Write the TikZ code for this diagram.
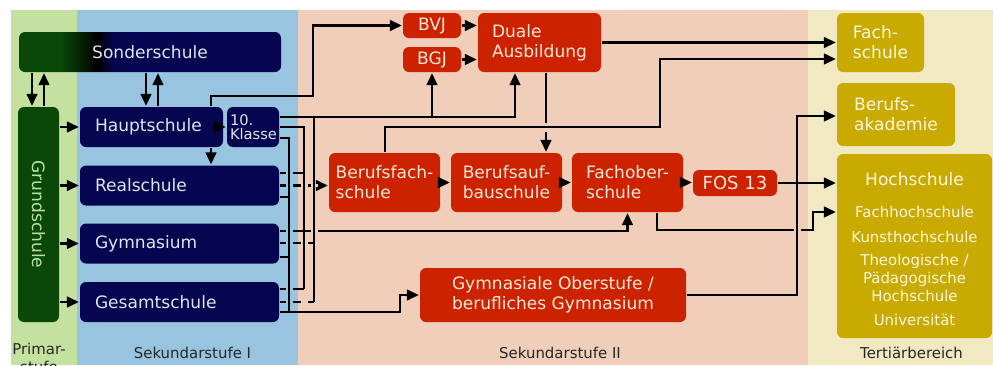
\documentclass[tikz,border=0pt]{standalone}
\usepackage{fontspec}
\setmainfont{DejaVu Sans}
\usetikzlibrary{arrows.meta}
\definecolor{primar}{RGB}{197,225,160}
\definecolor{sekone}{RGB}{152,196,224}
\definecolor{sektwo}{RGB}{241,206,186}
\definecolor{tertiar}{RGB}{241,233,194}
\definecolor{navybox}{RGB}{5,5,80}
\definecolor{greenbox}{RGB}{10,72,10}
\definecolor{redbox}{RGB}{204,34,0}
\definecolor{goldbox}{RGB}{200,170,0}
\definecolor{navytext}{RGB}{225,228,240}
\definecolor{redtext}{RGB}{255,232,215}
\definecolor{goldtext}{RGB}{255,246,222}
\definecolor{greentext}{RGB}{185,228,160}
\pgfdeclarehorizontalshading{sonderfade}{100bp}{color(0bp)=(greenbox); color(33bp)=(greenbox); color(40bp)=(black); color(43bp)=(navybox); color(100bp)=(navybox)}
\tikzset{
  school/.style={rounded corners=4.5pt, inner ysep=0pt, font=\fontsize{12.8}{15}\selectfont},
  sekibox/.style={school, fill=navybox, text=navytext, minimum height=30pt, align=left},
  sekiibox/.style={school, fill=redbox, text=redtext, align=left},
  tertbox/.style={school, fill=goldbox, text=goldtext, align=left},
  bandlabel/.style={inner sep=0pt, text={black!85}, font=\fontsize{11.2}{13.5}\selectfont},
  hgap/.pic={\fill (-3.5,-1.8) rectangle (3.5,1.8);},
  vgap/.pic={\fill (-1.8,-4.5) rectangle (1.8,4.5);},
}

\begin{document}
\begin{tikzpicture}[x=0.75pt,y=-0.75pt,line width=1.7pt,>={Triangle[length=9pt,width=8pt]}]
\useasboundingbox (0,0) rectangle (993,365);
% stages
\fill[primar] (11,10) rectangle (77,365);
\fill[sekone] (77,10) rectangle (298,365);
\fill[sektwo] (298,10) rectangle (808,365);
\fill[tertiar] (808,10) rectangle (993,365);
\node[bandlabel, align=center, anchor=north] (primarlabel) at (39,342) {Primar-\\stufe};
\node[bandlabel, anchor=base] (sekilabel) at (192.5,358) {Sekundarstufe I};
\node[bandlabel, anchor=base] (sekiilabel) at (560,358) {Sekundarstufe II};
\node[bandlabel, anchor=base] (tertlabel) at (911.5,358) {Tertiärbereich};
% Primarstufe and Sekundarstufe I
\node[school, text=navytext, shade, shading=sonderfade, minimum width=196.5pt, minimum height=30pt] (sonder) at (150,52) {Sonderschule};
\node[school, fill=greenbox, minimum width=30.75pt, minimum height=161.25pt,
  label={[rotate=-90, text=greentext, font=\fontsize{12.8}{15}\selectfont]center:Grundschule}] (grund) at (38.5,214.5) {};
\node[sekibox, minimum width=107.25pt, text width=84.75pt, inner xsep=11.25pt] (haupt) at (151.5,127) {Hauptschule};
\node[sekibox, minimum width=39pt, text width=34.5pt, inner xsep=2.25pt, font=\fontsize{11}{10.5}\selectfont] (zehn) at (253,127) {10.\\Klasse};
\node[sekibox, minimum width=149.25pt, text width=126.75pt, inner xsep=11.25pt] (real) at (179.5,185.5) {Realschule};
\node[sekibox, minimum width=149.25pt, text width=126.75pt, inner xsep=11.25pt] (gym) at (179.5,243.5) {Gymnasium};
\node[sekibox, minimum width=149.25pt, text width=126.75pt, inner xsep=11.25pt] (gesamt) at (179.5,302) {Gesamtschule};
% Sekundarstufe II
\node[sekiibox, minimum width=43.5pt, minimum height=18.75pt] (bvj) at (432,25.5) {BVJ};
\node[sekiibox, minimum width=43.5pt, minimum height=18.75pt] (bgj) at (432,59.5) {BGJ};
\node[sekiibox, minimum width=92.25pt, minimum height=44.25pt] (duale) at (539.5,42.5) {Duale\\Ausbildung};
\node[sekiibox, minimum width=83.25pt, minimum height=44.25pt] (bfs) at (384.5,182.5) {Berufsfach-\\schule};
\node[sekiibox, minimum width=83.25pt, minimum height=44.25pt] (bas) at (506.5,182.5) {Berufsauf-\\bauschule};
\node[sekiibox, minimum width=83.25pt, minimum height=44.25pt] (fos) at (627.5,182.5) {Fachober-\\schule};
\node[sekiibox, minimum width=63pt, minimum height=19.5pt, font=\fontsize{13.5}{15}\selectfont] (fos13) at (735,183) {FOS 13};
\node[sekiibox, minimum width=199.5pt, minimum height=40.5pt] (gymo) at (553,295) {Gymnasiale Oberstufe /\\berufliches Gymnasium};
% Tertiaerbereich
\node[tertbox, minimum width=65.25pt, minimum height=44.25pt] (fach) at (880.5,42.5) {Fach-\\schule};
\node[tertbox, minimum width=88.5pt, minimum height=47.25pt] (bak) at (896,114.5) {Berufs-\\akademie};
\node[tertbox, minimum width=116.25pt, minimum height=138pt] (hoch) at (914.5,246) {};
\node[text=goldtext, align=center, inner sep=0pt, font=\fontsize{11.2}{13.5}\selectfont] (hochtext) at (914.5,249)
  {{\fontsize{12.8}{15}\selectfont Hochschule}\\[10.5pt] Fachhochschule\\[5.25pt] Kunsthochschule\\[3.75pt]
   Theologische /\\ Pädagogische\\ Hochschule\\[4.5pt] Universität};
% simple connectors
\foreach \schoolnode in {haupt,real,gym,gesamt}
  \draw[->] (grund.east |- \schoolnode) -- (\schoolnode);
\draw[->] (32,0 |- sonder.south) -- (32,0 |- grund.north);
\draw[->] (44,0 |- grund.north) -- (44,0 |- sonder.south);
\draw[->] (146,0 |- sonder.south) -- (146,0 |- haupt.north);
\draw[->] (158,0 |- haupt.north) -- (158,0 |- sonder.south);
\draw[->] ([xshift=-8pt]haupt.east) -- (zehn.west);
\draw[->] (211,0 |- haupt.south) -- (211,0 |- real.north);
\draw[->] (211,0 |- haupt.north) |- (313,96) |- (bvj);
\draw[->] (bvj) -- (bvj -| duale.west);
\draw[->] (bgj) -- (bgj -| duale.west);
\draw[->] (duale) -- (fach);
\draw[->] (bfs) -- (bas);
\draw[->] (bas) -- (fos);
\draw[->] (fos) -- (fos -| fos13.west);
\draw[->] (fos13) -- (fos13 -| hoch.west);
% lines that get cut where others cross them
\draw[->] (real.east) -- (real.east -| bfs.west);
\draw (real.east |- 0,173) -- (304,173);
\draw[->] (gym.east |- 0,231) -| (fos.south);
\draw (gym.east |- 0,243) -- (314,243);
\draw (gesamt.east |- 0,289) -- (304,289);
\draw (gesamt.east |- 0,302) -- (314,302);
\draw[->] (546,0 |- duale.south) -- (546,0 |- bas.north);
\draw[->] (657,0 |- fos.south) |- (813,230) |- (hoch.west |- 0,212);
\foreach \y in {173,185.5,231,243,289,302}
  \path pic[sekone] at (289,\y) {hgap};
\path
  pic[sektwo] at (304,185.5) {hgap}
  pic[sektwo] at (304,243) {hgap}
  pic[sektwo] at (304,302) {hgap}
  pic[sektwo] at (314,185.5) {hgap}
  pic[sektwo] at (314,231) {hgap}
  pic[sektwo] at (546,127) {vgap}
  pic[sektwo] at (797,230) {hgap};
% lines on top
\draw[->] (zehn.east |- 0,117) -| (515,0 |- duale.south);
\draw[->] (bgj.south |- 0,117) -- (bgj.south);
\draw (314,117) -- (314,302);
\draw (zehn.east |- 0,127) -| (304,289);
\draw[->] (zehn.east |- 0,138) -| (289,312) -| (400,295) -- (gymo);
\draw (real.east |- 0,197) -- (289,197);
\draw (gym.east |- 0,257) -- (289,257);
\draw (gesamt.east |- 0,312) -- (289,312);
\draw[->] (385,0 |- bfs.north) |- (660,127) |- (fach.west |- 0,59);
\draw[->] (gymo) -| (797,116) -- (bak.west |- 0,116);
\end{tikzpicture}
\end{document}
